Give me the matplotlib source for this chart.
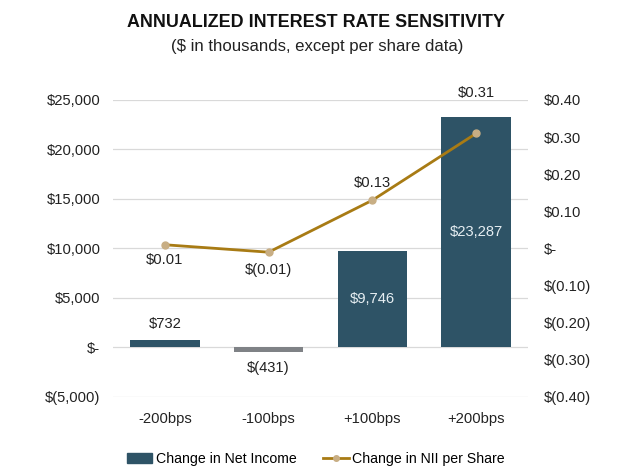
import matplotlib as mpl
mpl.use('Agg')
import matplotlib.pyplot as plt  # noqa
import numpy as np

plt.rcParams['font.family'] = ['Liberation Sans', 'DejaVu Sans']

categories = ['-200bps', '-100bps', '+100bps', '+200bps']
net_income = [732, -431, 9746, 23287]
nii_per_share = [0.01, -0.01, 0.13, 0.31]
income_labels = ['$732', '$(431)', '$9,746', '$23,287']
share_labels = ['$0.01', '$(0.01)', '$0.13', '$0.31']
left_ticks = [-5000, 0, 5000, 10000, 15000, 20000, 25000]
left_ticklabels = ['$(5,000)', '$-', '$5,000', '$10,000', '$15,000',
                   '$20,000', '$25,000']
right_ticks = [-0.4, -0.3, -0.2, -0.1, 0.0, 0.1, 0.2, 0.3, 0.4]
right_ticklabels = ['$(0.40)', '$(0.30)', '$(0.20)', '$(0.10)', '$-',
                    '$0.10', '$0.20', '$0.30', '$0.40']

bar_col = '#2E5366'
neg_col = '#7F8286'
line_col = '#A87B14'
mark_col = '#C8AE84'
fs = 10.6

fig = plt.figure(figsize=(6.17, 4.76), dpi=100)
ax = fig.add_axes([0.183, 0.166, 0.673, 0.624])
ax2 = ax.twinx()

x = np.arange(len(categories))
colors = [neg_col if v < 0 else bar_col for v in net_income]
ax.bar(x, net_income, width=0.67, color=colors, zorder=2)
ax.set_ylim(-5000, 25000)
ax.set_xlim(-0.5, len(categories) - 0.5)
ax.set_yticks(left_ticks)
ax.set_yticklabels(left_ticklabels)
ax.set_xticks(x)
ax.set_xticklabels(categories)
ax.grid(axis='y', color='#D9D9D9', lw=0.9, zorder=0)
ax.set_axisbelow(True)
for s in ax.spines.values():
    s.set_visible(False)
for s in ax2.spines.values():
    s.set_visible(False)
ax.tick_params(length=0, labelsize=fs, colors='#222222')
ax.tick_params(axis='y', pad=9)
ax.tick_params(axis='x', pad=11)

for i, (v, lab) in enumerate(zip(net_income, income_labels)):
    if v > 5000:
        ax.text(i, v / 2, lab, ha='center', va='center', color='#E6EEF2',
                fontsize=fs)
    elif v >= 0:
        ax.text(i, v + 900, lab, ha='center', va='bottom', fontsize=fs,
                color='#222222')
    else:
        ax.text(i, v - 900, lab, ha='center', va='top', fontsize=fs,
                color='#222222')

ax2.plot(x, nii_per_share, color=line_col, lw=2, marker='o', ms=5,
         mfc=mark_col, mec=mark_col, zorder=3)
ax2.set_ylim(-0.4, 0.4)
ax2.set_yticks(right_ticks)
ax2.set_yticklabels(right_ticklabels)
ax2.tick_params(length=0, labelsize=fs, colors='#222222', pad=11)

offsets = [-0.04, -0.048, 0.046, 0.11]
for i, (v, lab) in enumerate(zip(nii_per_share, share_labels)):
    ax2.text(i, v + offsets[i], lab, ha='center', va='center',
             fontsize=fs, color='#222222')

fig.text(0.512, 0.952, 'ANNUALIZED INTEREST RATE SENSITIVITY',
         ha='center', va='center', fontsize=12.9, fontweight='bold',
         color='#111111')
fig.text(0.514, 0.902, '($ in thousands, except per share data)',
         ha='center', va='center', fontsize=12.1, color='#222222')

h1 = mpl.patches.Patch(color=bar_col)
h2 = mpl.lines.Line2D([], [], color=line_col, lw=2, marker='o', ms=4,
                      mfc=mark_col, mec=mark_col)
fig.legend([h1, h2], ['Change in Net Income', 'Change in NII per Share'],
           loc='center', bbox_to_anchor=(0.512, 0.035), ncol=2,
           frameon=False, fontsize=10.2, handlelength=1.8,
           columnspacing=1.9, handletextpad=0.25)

fig.savefig('out.png', dpi=100)
